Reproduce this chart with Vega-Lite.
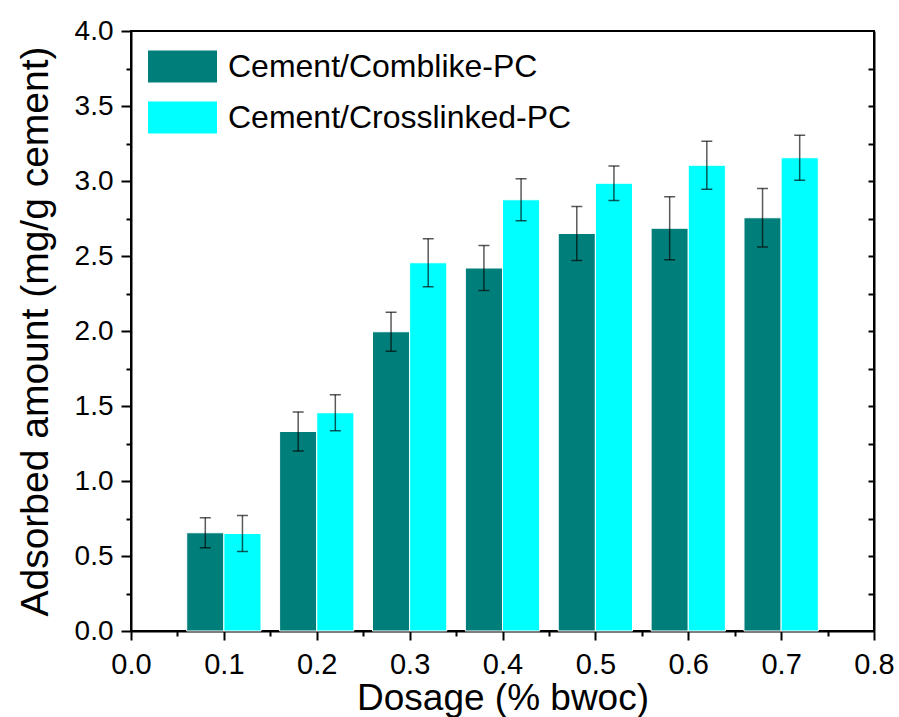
{
  "$schema": "https://vega.github.io/schema/vega-lite/v6.json",
  "width": 743,
  "height": 600,
  "autosize": "none",
  "padding": {"left": 131, "top": 31, "right": 25, "bottom": 86},
  "config": {
    "font": "Liberation Sans",
    "view": {"stroke": "black", "strokeWidth": 2},
    "axis": {
      "grid": false,
      "domainColor": "black",
      "domainWidth": 2,
      "tickColor": "black",
      "tickWidth": 2,
      "labelColor": "black",
      "titleColor": "black",
      "labelFont": "Liberation Sans",
      "titleFont": "Liberation Sans",
      "titleFontWeight": "normal",
      "zindex": 1
    }
  },
  "data": {
    "values": [
      {"dose": 0.1, "series": "Cement/Comblike-PC", "value": 0.655, "err": 0.10},
      {"dose": 0.2, "series": "Cement/Comblike-PC", "value": 1.33, "err": 0.13},
      {"dose": 0.3, "series": "Cement/Comblike-PC", "value": 1.995, "err": 0.13},
      {"dose": 0.4, "series": "Cement/Comblike-PC", "value": 2.42, "err": 0.15},
      {"dose": 0.5, "series": "Cement/Comblike-PC", "value": 2.65, "err": 0.18},
      {"dose": 0.6, "series": "Cement/Comblike-PC", "value": 2.685, "err": 0.21},
      {"dose": 0.7, "series": "Cement/Comblike-PC", "value": 2.755, "err": 0.195},
      {"dose": 0.1, "series": "Cement/Crosslinked-PC", "value": 0.65, "err": 0.12},
      {"dose": 0.2, "series": "Cement/Crosslinked-PC", "value": 1.455, "err": 0.12},
      {"dose": 0.3, "series": "Cement/Crosslinked-PC", "value": 2.455, "err": 0.16},
      {"dose": 0.4, "series": "Cement/Crosslinked-PC", "value": 2.875, "err": 0.14},
      {"dose": 0.5, "series": "Cement/Crosslinked-PC", "value": 2.985, "err": 0.115},
      {"dose": 0.6, "series": "Cement/Crosslinked-PC", "value": 3.105, "err": 0.16},
      {"dose": 0.7, "series": "Cement/Crosslinked-PC", "value": 3.155, "err": 0.15}
    ]
  },
  "transform": [
    {"calculate": "datum.series == 'Cement/Comblike-PC' ? datum.dose - 0.04 : datum.dose", "as": "x0"},
    {"calculate": "datum.x0 + 0.04", "as": "x1"},
    {"calculate": "datum.x0 + 0.02", "as": "xc"}
  ],
  "resolve": {"axis": {"y": "independent", "x": "independent"}},
  "layer": [
    {
      "mark": {"type": "bar", "stroke": "white", "strokeWidth": 1, "opacity": 1},
      "encoding": {
        "x": {
          "field": "x0", "type": "quantitative",
          "scale": {"domain": [0, 0.8], "nice": false, "zero": false},
          "axis": {
            "orient": "bottom",
            "values": [0, 0.05, 0.1, 0.15, 0.2, 0.25, 0.3, 0.35, 0.4, 0.45, 0.5, 0.55, 0.6, 0.65, 0.7, 0.75, 0.8],
            "format": ".1f",
            "labelExpr": "round(datum.value * 100) % 10 == 0 ? datum.label : ''",
            "tickSize": {"condition": {"test": "round(datum.value * 100) % 10 != 0", "value": 5}, "value": 9},
            "labelFontSize": 29,
            "labelPadding": 10,
            "labelFlush": false,
            "labelOverlap": false,
            "title": "Dosage (% bwoc)",
            "titleFontSize": 37,
            "titleBaseline": "alphabetic",
            "titleY": 78
          }
        },
        "x2": {"field": "x1"},
        "y": {
          "field": "value", "type": "quantitative",
          "scale": {"domain": [0, 4], "nice": false},
          "axis": {
            "orient": "left",
            "values": [0, 0.25, 0.5, 0.75, 1, 1.25, 1.5, 1.75, 2, 2.25, 2.5, 2.75, 3, 3.25, 3.5, 3.75, 4],
            "format": ".1f",
            "labelExpr": "round(datum.value * 100) % 50 == 0 ? datum.label : ''",
            "tickSize": {"condition": {"test": "round(datum.value * 100) % 50 != 0", "value": 5}, "value": 10},
            "labelFontSize": 28,
            "labelPadding": 8,
            "labelFlush": false,
            "labelOverlap": false,
            "title": "Adsorbed amount (mg/g cement)",
            "titleFontSize": 39,
            "titleBaseline": "alphabetic",
            "titleX": -84
          }
        },
        "y2": {"datum": 0},
        "color": {
          "field": "series", "type": "nominal",
          "scale": {"domain": ["Cement/Comblike-PC", "Cement/Crosslinked-PC"], "range": ["#007F7A", "#00FFFF"]},
          "legend": {
            "orient": "none",
            "legendX": 17,
            "legendY": 1,
            "title": null,
            "symbolType": "M-1,-0.464H1V0.464H-1Z",
            "symbolSize": 4761,
            "symbolStrokeWidth": 0,
            "symbolOpacity": 1,
            "labelFontSize": 32,
            "labelColor": "black",
            "labelOffset": 11,
            "rowPadding": -2,
            "labelLimit": 600
          }
        }
      }
    },
    {
      "mark": {"type": "errorbar", "ticks": {"size": 11}, "thickness": 1.5, "color": "black", "opacity": 0.65},
      "encoding": {
        "x": {
          "field": "xc", "type": "quantitative",
          "axis": {"orient": "top", "ticks": false, "labels": false, "title": null, "domain": false}
        },
        "y": {
          "field": "value", "type": "quantitative",
          "axis": {
            "orient": "right",
            "values": [0.25, 0.5, 0.75, 1, 1.25, 1.5, 1.75, 2, 2.25, 2.5, 2.75, 3, 3.25, 3.5, 3.75],
            "labels": false,
            "tickSize": -6,
            "title": null
          }
        },
        "yError": {"field": "err"}
      }
    }
  ]
}
